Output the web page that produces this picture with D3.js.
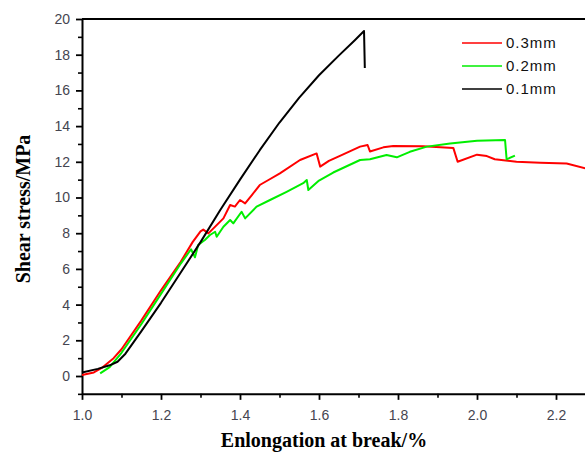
<!DOCTYPE html>
<html>
<head>
<meta charset="utf-8">
<script src="https://cdn.jsdelivr.net/npm/d3@7"></script>
<style>
  body { margin: 0; background: #fff; }
  svg { display: block; }
</style>
</head>
<body>
<div id="chart"></div>
<script>
// values (elongation %, shear stress MPa)
const series01 = [[1.0,0.2],[1.04,0.4],[1.07,0.6],[1.09,0.8],[1.11,1.25],[1.15,2.5],[1.2,4.1],[1.25,5.8],
  [1.3,7.5],[1.35,9.3],[1.4,11.0],[1.45,12.65],[1.5,14.2],[1.55,15.6],[1.6,16.85],[1.65,17.95],
  [1.69,18.8],[1.714,19.33],[1.716,17.25]];
const series03 = [[1.0,0.06],[1.03,0.2],[1.05,0.45],[1.08,1.0],[1.1,1.5],[1.15,3.1],[1.2,4.8],[1.25,6.4],
  [1.28,7.5],[1.3,8.1],[1.307,8.2],[1.32,7.99],[1.358,8.83],[1.375,9.58],[1.387,9.49],
  [1.4,9.86],[1.413,9.67],[1.43,10.14],[1.45,10.7],[1.472,10.98],[1.501,11.35],[1.552,12.1],[1.594,12.47],
  [1.603,11.73],[1.625,12.05],[1.653,12.33],[1.704,12.85],[1.723,12.94],[1.729,12.58],[1.763,12.81],[1.788,12.89],
  [1.864,12.87],[1.94,12.78],[1.951,12.0],[2.0,12.4],[2.025,12.32],[2.045,12.14],[2.1,12.0],[2.16,11.95],
  [2.227,11.9],[2.28,11.6]];
const series02 = [[1.046,0.15],[1.07,0.5],[1.1,1.3],[1.15,2.9],[1.2,4.6],[1.25,6.3],[1.276,7.1],
  [1.286,6.65],[1.294,7.34],[1.311,7.62],[1.324,7.9],[1.337,8.08],[1.341,7.8],[1.358,8.36],[1.375,8.74],
  [1.383,8.55],[1.404,9.2],[1.413,8.83],[1.442,9.49],[1.476,9.86],[1.518,10.32],[1.56,10.8],[1.569,10.98],
  [1.573,10.42],[1.6,10.95],[1.636,11.4],[1.704,12.1],[1.729,12.14],[1.771,12.38],[1.797,12.25],[1.83,12.56],
  [1.873,12.85],[1.932,13.03],[2.0,13.18],[2.071,13.22],[2.075,12.14],[2.096,12.35]];

const seriesNames = ["0.3mm", "0.2mm", "0.1mm"];
const seriesColors = ["#ff0000", "#00ee00", "#000000"];
const xMajor = [1.0, 1.2, 1.4, 1.6, 1.8, 2.0, 2.2];
const xMinor = [1.1, 1.3, 1.5, 1.7, 1.9, 2.1, 2.3];
const yMajor = [0, 2, 4, 6, 8, 10, 12, 14, 16, 18, 20];
const yMinor = [-1, 1, 3, 5, 7, 9, 11, 13, 15, 17, 19];

const W = 585, H = 454;
const svg = d3.select("#chart").append("svg")
    .attr("width", W)
    .attr("height", H);

const x = d3.scaleLinear().domain([1.0, 2.3]).range([82, 82 + 1.3 * 395]);
const y = d3.scaleLinear().domain([-1, 20]).range([393.85, 19]);

// minor ticks
svg.append("g")
    .attr("transform", `translate(0,${y(-1)})`)
    .call(d3.axisBottom(x).tickValues(xMinor).tickSize(4).tickFormat(""))
    .call(g => g.select(".domain").remove())
    .call(g => g.selectAll("line").attr("stroke-width", 1.6));
svg.append("g")
    .attr("transform", `translate(${x(1.0)},0)`)
    .call(d3.axisLeft(y).tickValues(yMinor).tickSize(4).tickFormat(""))
    .call(g => g.select(".domain").remove())
    .call(g => g.selectAll("line").attr("stroke-width", 1.6));

// major axes
const xAxis = svg.append("g")
    .attr("transform", `translate(0,${y(-1)})`)
    .call(d3.axisBottom(x).tickValues(xMajor).tickSize(6).tickSizeOuter(0).tickPadding(10)
        .tickFormat(d3.format(".1f")));
const yAxis = svg.append("g")
    .attr("transform", `translate(${x(1.0)},0)`)
    .call(d3.axisLeft(y).tickValues(yMajor).tickSize(6).tickSizeOuter(0).tickPadding(6));

[xAxis, yAxis].forEach(g => {
    g.select(".domain").attr("stroke-width", 2);
    g.selectAll(".tick line").attr("stroke-width", 1.8);
    g.selectAll("text")
        .attr("fill", "#454550")
        .style("font-family", "'Liberation Sans', Arial, sans-serif")
        .style("font-size", "14px");
});

// top frame line
svg.append("line")
    .attr("x1", x(1.0)).attr("x2", x(2.3))
    .attr("y1", y(20)).attr("y2", y(20))
    .attr("stroke", "#000").attr("stroke-width", 2);

// curves
const line = d3.line()
    .x(d => x(d[0]))
    .y(d => y(d[1]));

[series03, series02, series01].forEach((s, i) => {
    svg.append("path")
        .datum(s)
        .attr("fill", "none")
        .attr("stroke", seriesColors[i])
        .attr("stroke-width", 2)
        .attr("stroke-linejoin", "round")
        .attr("d", line);
});

// legend
const legend = svg.append("g");
seriesNames.forEach((name, i) => {
    const ly = 43 + i * 23;
    legend.append("line")
        .attr("x1", 462).attr("x2", 502)
        .attr("y1", ly).attr("y2", ly)
        .attr("stroke", seriesColors[i])
        .attr("stroke-width", 1.6);
    legend.append("text")
        .attr("x", 506)
        .attr("y", ly)
        .attr("dy", "0.36em")
        .style("font-family", "'Liberation Sans', Arial, sans-serif")
        .style("font-size", "15px")
        .style("letter-spacing", "1px")
        .attr("fill", "#111")
        .text(name);
});

// axis titles
svg.append("text")
    .attr("x", 324)
    .attr("y", 447)
    .attr("text-anchor", "middle")
    .style("font-family", "'Liberation Serif', 'Times New Roman', serif")
    .style("font-weight", "bold")
    .style("font-size", "20px")
    .text("Enlongation at break/%");

svg.append("text")
    .attr("transform", "rotate(-90)")
    .attr("x", -209)
    .attr("y", 30)
    .attr("text-anchor", "middle")
    .style("font-family", "'Liberation Serif', 'Times New Roman', serif")
    .style("font-weight", "bold")
    .style("font-size", "20px")
    .text("Shear stress/MPa");
</script>
</body>
</html>
